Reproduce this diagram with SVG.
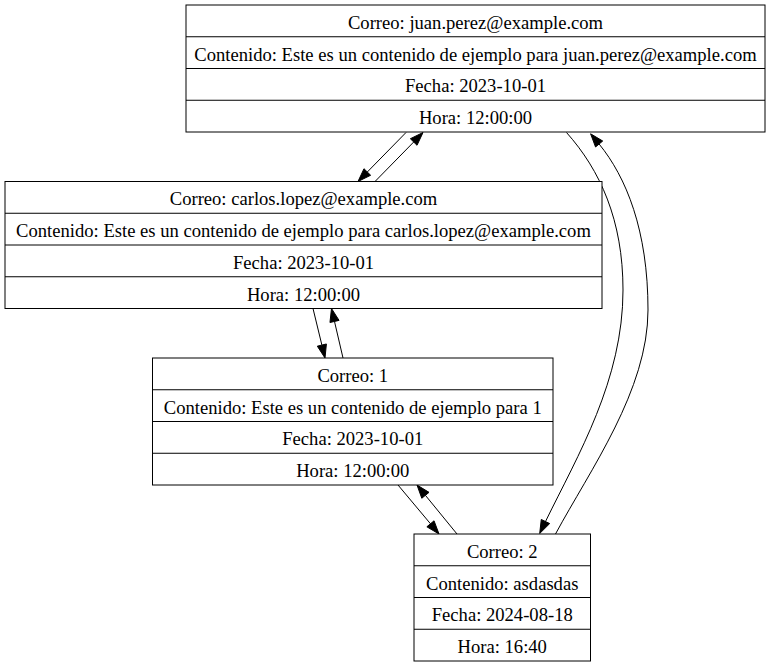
<svg xmlns="http://www.w3.org/2000/svg" width="774" height="667" viewBox="0 0 774 667">
<style>
.box{fill:#ffffff;stroke:#000000;stroke-width:1}
.sep{stroke:#000000;stroke-width:1}
.t{font-family:"Liberation Serif","Times New Roman",serif;font-size:18.6px;fill:#000000;text-anchor:middle}
.e{fill:none;stroke:#000000;stroke-width:1}
.ah{fill:#000000;stroke:#000000;stroke-width:1}
</style>
<rect width="774" height="667" fill="#ffffff"/>
<g id="connectors">
  <path class="e" d="M406,132.5 L367.3,172"/>
  <polygon class="ah" points="358,181.5 370.64,175.27 363.98,168.73"/>
  <path class="e" d="M375,181.5 L413.7,142"/>
  <polygon class="ah" points="423,132.5 417.02,145.27 410.36,138.73"/>
  <path class="e" d="M313,308.5 L321.9,345.1"/>
  <polygon class="ah" points="325,358 326.4,343.97 317.32,346.17"/>
  <path class="e" d="M343,358 L334.5,321.5"/>
  <polygon class="ah" points="331.5,308.5 339.06,320.39 329.96,322.51"/>
  <path class="e" d="M398,485 L430.5,523.8"/>
  <polygon class="ah" points="439,534 434.04,520.8 426.88,526.8"/>
  <path class="e" d="M457,534 L425.4,495.3"/>
  <polygon class="ah" points="417,485 429.03,492.36 421.79,498.26"/>
  <path class="e" d="M566.5,132.5 C600,170 623,220 623,290 C623,380 578,455 545.5,521.5"/>
  <polygon class="ah" points="539.7,533.5 549.69,523.57 541.27,519.47"/>
  <path class="e" d="M555.5,534 C590,470 648,390 648,310 C648,230 626,177 599.1,144"/>
  <polygon class="ah" points="590.6,133.8 602.71,141.01 595.55,146.99"/>
</g>
<g id="node-juan">
  <rect class="box" x="186" y="5" width="579" height="127"/>
  <line class="sep" x1="186" y1="36.75" x2="765" y2="36.75"/>
  <line class="sep" x1="186" y1="68.5" x2="765" y2="68.5"/>
  <line class="sep" x1="186" y1="100.25" x2="765" y2="100.25"/>
  <text class="t" x="475.5" y="28.8">Correo: juan.perez@example.com</text>
  <text class="t" x="475.5" y="60.55">Contenido: Este es un contenido de ejemplo para juan.perez@example.com</text>
  <text class="t" x="475.5" y="92.3">Fecha: 2023-10-01</text>
  <text class="t" x="475.5" y="124.05">Hora: 12:00:00</text>
</g>
<g id="node-carlos">
  <rect class="box" x="5" y="181.5" width="597" height="127"/>
  <line class="sep" x1="5" y1="213.25" x2="602" y2="213.25"/>
  <line class="sep" x1="5" y1="245" x2="602" y2="245"/>
  <line class="sep" x1="5" y1="276.75" x2="602" y2="276.75"/>
  <text class="t" x="303.5" y="205.3">Correo: carlos.lopez@example.com</text>
  <text class="t" x="303.5" y="237.05">Contenido: Este es un contenido de ejemplo para carlos.lopez@example.com</text>
  <text class="t" x="303.5" y="268.8">Fecha: 2023-10-01</text>
  <text class="t" x="303.5" y="300.55">Hora: 12:00:00</text>
</g>
<g id="node-1">
  <rect class="box" x="152.5" y="358" width="400.5" height="127"/>
  <line class="sep" x1="152.5" y1="389.75" x2="553" y2="389.75"/>
  <line class="sep" x1="152.5" y1="421.5" x2="553" y2="421.5"/>
  <line class="sep" x1="152.5" y1="453.25" x2="553" y2="453.25"/>
  <text class="t" x="352.75" y="381.8">Correo: 1</text>
  <text class="t" x="352.75" y="413.55">Contenido: Este es un contenido de ejemplo para 1</text>
  <text class="t" x="352.75" y="445.3">Fecha: 2023-10-01</text>
  <text class="t" x="352.75" y="477.05">Hora: 12:00:00</text>
</g>
<g id="node-2">
  <rect class="box" x="414" y="534" width="176.5" height="127"/>
  <line class="sep" x1="414" y1="565.75" x2="590.5" y2="565.75"/>
  <line class="sep" x1="414" y1="597.5" x2="590.5" y2="597.5"/>
  <line class="sep" x1="414" y1="629.25" x2="590.5" y2="629.25"/>
  <text class="t" x="502.25" y="557.8">Correo: 2</text>
  <text class="t" x="502.25" y="589.55">Contenido: asdasdas</text>
  <text class="t" x="502.25" y="621.3">Fecha: 2024-08-18</text>
  <text class="t" x="502.25" y="653.05">Hora: 16:40</text>
</g>
</svg>
